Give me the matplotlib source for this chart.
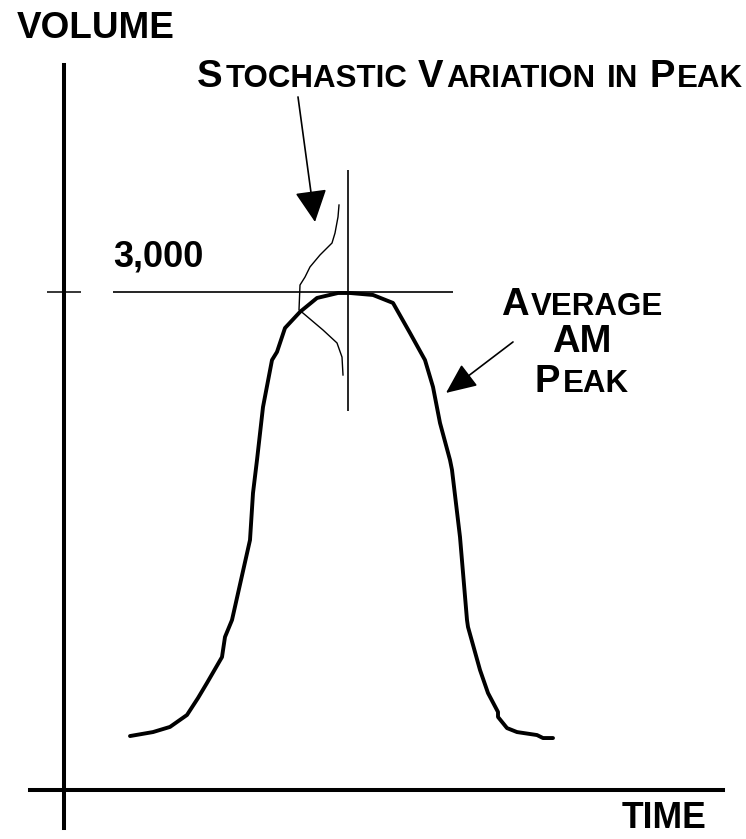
import matplotlib
matplotlib.use('Agg')
import matplotlib.pyplot as plt

plt.rcParams['font.family'] = ['Liberation Sans', 'DejaVu Sans']

W, H = 746, 839

# Average AM peak (time in arbitrary units, volume)
peak_time = [6.6, 8.9, 10.6, 12.3, 13.4, 14.3, 15.8, 16.1, 16.8, 18.6,
             18.9, 19.3, 19.9, 20.8, 21.3, 22.1, 23.6, 25.3, 27.4, 28.6,
             30.9, 32.9, 34.6, 36.1, 36.9, 37.6, 38.6, 38.8, 39.6, 40.3,
             40.4, 41.6, 42.4, 43.4, 43.4, 44.3, 45.3, 47.3, 47.9, 48.9]
peak_volume = [325, 349, 380, 452, 554, 645, 801, 922, 1024, 1506,
               1789, 1988, 2307, 2590, 2639, 2783, 2880, 2964, 2994, 2994,
               2982, 2934, 2753, 2590, 2428, 2211, 1988, 1928, 1524, 1024,
               982, 723, 584, 470, 440, 373, 349, 331, 313, 313]

# stochastic variation of the peak (sideways distribution)
stoch_time = [27.5, 27.4, 27.1, 26.8, 25.6, 24.6, 24.1, 23.6, 23.5, 23.9,
              25.9, 27.3, 27.8, 27.9]
stoch_volume = [3524, 3452, 3355, 3295, 3223, 3151, 3090, 3042, 2892, 2873,
                2771, 2693, 2608, 2500]

peak_level = 3000
peak_level_span = [4.9, 38.9]
mark_time = 28.4
mark_span = [2283, 3735]

fig = plt.figure(figsize=(W / 100, H / 100), dpi=100)
fig.patch.set_facecolor('white')
ax = fig.add_axes([0, 0, 1, 1])
ax.set_xlim(-6.4, 68.2)
ax.set_ylim(-295.2, 4759.0)

# axes as spines
for side in ['top', 'right']:
    ax.spines[side].set_visible(False)
ax.spines['left'].set_position(('data', 0))
ax.spines['bottom'].set_position(('data', 0))
ax.spines['left'].set_bounds(-229, 4367)
ax.spines['bottom'].set_bounds(-3.4, 65.9)
for side in ['left', 'bottom']:
    ax.spines[side].set_linewidth(2.9)
ax.set_xticks([])
ax.set_yticks([peak_level])
ax.set_yticklabels([])
ax.tick_params(axis='y', direction='inout', length=24, width=1.1)

# curves
ax.plot(peak_time, peak_volume, color='black', lw=2.8,
        solid_capstyle='round', solid_joinstyle='round')
ax.plot(stoch_time, stoch_volume, color='black', lw=1.0)
ax.hlines(peak_level, *peak_level_span, color='black', lw=1.2)
ax.vlines(mark_time, *mark_span, color='black', lw=1.2)

# arrows
ax.annotate('', xy=(25.1, 3422), xytext=(23.4, 4175),
            arrowprops=dict(arrowstyle='-|>,head_length=1.0,head_width=0.5',
                            mutation_scale=20, lw=1.2, color='black',
                            shrinkA=0, shrinkB=0))
ax.annotate('', xy=(38.2, 2392), xytext=(44.9, 2699),
            arrowprops=dict(arrowstyle='-|>,head_length=0.95,head_width=0.42',
                            mutation_scale=20, lw=1.2, color='black',
                            shrinkA=0, shrinkB=0))


def small_caps(x, y, s, big, small, ha='left'):
    # x, y in pixels from top-left, y is the baseline
    r = fig.canvas.get_renderer()
    runs = []
    for c in s:
        kind = 'sp' if c == ' ' else ('small' if c.islower() else 'big')
        if runs and runs[-1][0] == kind:
            runs[-1][1] += c
        else:
            runs.append([kind, c])
    items = []
    total = 0
    for kind, txt in runs:
        if kind == 'sp':
            w = 0.278 * small * len(txt) * fig.dpi / 72
            items.append((None, w))
        else:
            size = big if kind == 'big' else small
            t = fig.text(0, 0, txt.upper(), fontsize=size, fontweight='bold',
                         va='baseline')
            w = t.get_window_extent(r).width + 2.5
            items.append((t, w))
        total += w
    x0 = x - total / 2 if ha == 'center' else x
    for t, w in items:
        if t is not None:
            t.set_position((x0 / W, 1 - y / H))
        x0 += w


fig.text(17 / W, 1 - 38 / H, 'VOLUME', fontsize=26.6, fontweight='bold', va='baseline')
fig.text(622 / W, 1 - 828 / H, 'TIME', fontsize=25.6, fontweight='bold', va='baseline')
fig.text(113 / W, 1 - 267 / H, '3,000', fontsize=26, fontweight='bold', va='baseline')

small_caps(197, 87, 'Stochastic Variation in Peak', 27.5, 22.5)
small_caps(583, 315, 'Average', 27.5, 22.5, ha='center')
small_caps(583, 352, 'AM', 27.5, 22.5, ha='center')
small_caps(583, 392, 'Peak', 27.5, 22.5, ha='center')

fig.savefig('out.png', dpi=100)
